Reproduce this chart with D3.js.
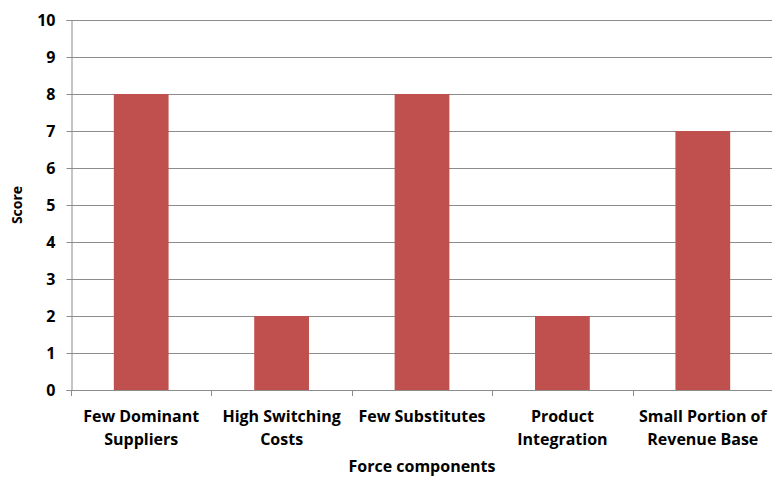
<!DOCTYPE html>
<html>
<head>
<meta charset="utf-8">
<script src="https://cdn.jsdelivr.net/npm/d3@7"></script>
<style>
  body { margin: 0; background: #fff; }
  text { font-family: "Open Sans", "DejaVu Sans", sans-serif; font-weight: bold; fill: #000; }
</style>
</head>
<body>
<div id="chart"></div>
<script>
// data
var categories = [
    ["Few Dominant", "Suppliers"],
    ["High Switching", "Costs"],
    ["Few Substitutes"],
    ["Product", "Integration"],
    ["Small Portion of", "Revenue Base"]
];
var scores = [8, 2, 8, 2, 7];
var yTicks = [0, 1, 2, 3, 4, 5, 6, 7, 8, 9, 10];

var width = 772, height = 480;
var plotLeft = 71, plotRight = 773, plotTop = 20, plotBottom = 390;

var svg = d3.select("#chart")
  .append("svg")
  .attr("width", width)
  .attr("height", height);

var x = d3.scaleBand()
  .domain(d3.range(categories.length))
  .range([plotLeft, plotRight])
  .paddingInner(0.61)
  .paddingOuter(0.305);

var y = d3.scaleLinear()
  .domain([0, 10])
  .range([plotBottom, plotTop]);

// gridlines
svg.append("g")
  .selectAll("line")
  .data(yTicks.slice(1))
  .enter()
  .append("line")
  .attr("x1", plotLeft)
  .attr("x2", plotRight)
  .attr("y1", function(d) { return Math.round(y(d)) + 0.5; })
  .attr("y2", function(d) { return Math.round(y(d)) + 0.5; })
  .attr("stroke", "#8c8c8c")
  .attr("stroke-width", 1);

// bars
svg.append("g")
  .selectAll("rect")
  .data(scores)
  .enter()
  .append("rect")
  .attr("x", function(d, i) { return x(i); })
  .attr("width", x.bandwidth())
  .attr("y", function(d) { return y(d); })
  .attr("height", function(d) { return y(0) - y(d); })
  .attr("fill", "#C0504D");

// y axis
var yAxis = svg.append("g")
  .attr("transform", "translate(" + (plotLeft + 0.5) + ",0)")
  .call(d3.axisLeft(y).tickValues(yTicks).tickSize(5).tickPadding(11).tickFormat(d3.format("d")));
yAxis.select(".domain").attr("stroke", "#8c8c8c");
yAxis.selectAll(".tick line").attr("stroke", "#8c8c8c");
yAxis.selectAll(".tick text")
  .style("font-size", "16px")
  .style("font-weight", "bold")
  .style("font-family", "'Open Sans', sans-serif")
  .attr("fill", "#000");

// x axis baseline and ticks between categories
var step = x.step();
var xBoundaries = d3.range(categories.length + 1).map(function(i) { return plotLeft + i * step; });
svg.append("line")
  .attr("x1", plotLeft)
  .attr("x2", plotRight)
  .attr("y1", plotBottom + 0.5)
  .attr("y2", plotBottom + 0.5)
  .attr("stroke", "#8c8c8c");
svg.append("g")
  .selectAll("line")
  .data(xBoundaries)
  .enter()
  .append("line")
  .attr("x1", function(d) { return Math.round(d) + 0.5; })
  .attr("x2", function(d) { return Math.round(d) + 0.5; })
  .attr("y1", plotBottom)
  .attr("y2", plotBottom + 6)
  .attr("stroke", "#8c8c8c");

// category labels
var labels = svg.append("g")
  .selectAll("text")
  .data(categories)
  .enter()
  .append("text")
  .attr("text-anchor", "middle")
  .style("font-size", "16px")
  .attr("transform", function(d, i) {
      return "translate(" + (x(i) + x.bandwidth() / 2) + ",422)";
  });
labels.selectAll("tspan")
  .data(function(d) { return d; })
  .enter()
  .append("tspan")
  .attr("x", 0)
  .attr("dy", function(d, i) { return i === 0 ? 0 : 23; })
  .text(function(d) { return d; });

// axis titles
svg.append("text")
  .attr("text-anchor", "middle")
  .style("font-size", "14px")
  .attr("transform", "translate(22," + ((plotTop + plotBottom) / 2) + ") rotate(-90)")
  .text("Score");

svg.append("text")
  .attr("x", 422)
  .attr("y", 472)
  .attr("text-anchor", "middle")
  .style("font-size", "16px")
  .text("Force components");
</script>
</body>
</html>
